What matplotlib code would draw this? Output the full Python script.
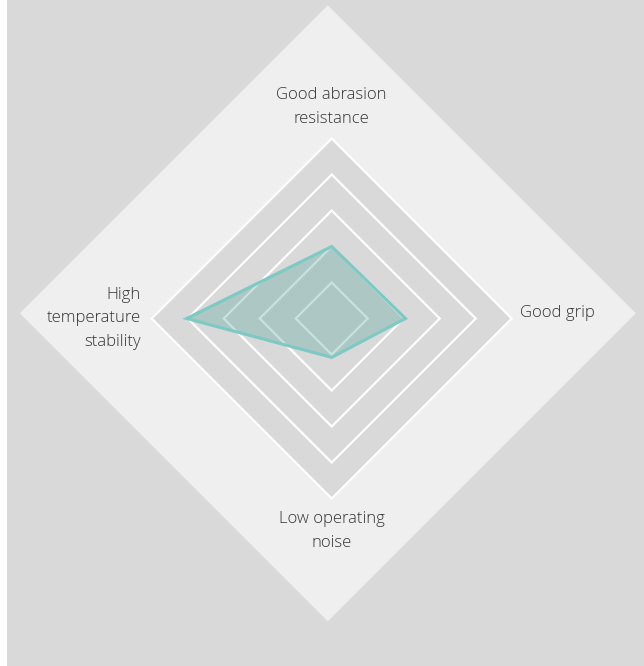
import matplotlib
matplotlib.use("Agg")
import matplotlib.pyplot as plt
import numpy as np
from matplotlib.patches import Polygon, Rectangle

# ---- data ----
categories = ["Good abrasion\nresistance", "Good grip", "Low operating\nnoise", "High\ntemperature\nstability"]
values = [2.0, 2.05, 1.08, 4.03]
ring_levels = [1, 2, 3, 4, 5]

# ---- style / layout ----
W, H, DPI = 644, 666, 100
UNIT = 36.0            # pixels per value unit
CX, CY = 331.7, 318.5  # chart centre in pixels (from top-left)
BG = "#d9d9d9"
LIGHT = "#efefef"
TEXT = "#333333"
EDGE = "#7dc9c3"
FILL = "#4a9e98"

plt.rcParams['font.family'] = ['Open Sans', 'DejaVu Sans']

fig = plt.figure(figsize=(W / DPI, H / DPI), dpi=DPI)
fig.patch.set_facecolor("white")
ax = fig.add_axes([0, 0, 1, 1])
ax.set_xlim(-CX / UNIT, (W - CX) / UNIT)
ax.set_ylim(-(H - CY) / UNIT, CY / UNIT)
ax.set_aspect("equal")
ax.axis("off")

def px(x, y):
    return ((x - CX) / UNIT, (CY - y) / UNIT)

# grey background panel
x0, y0 = px(7, 665.5)
x1, y1 = px(W, 0)
ax.add_patch(Rectangle((x0, y0), x1 - x0, y1 - y0, facecolor=BG, edgecolor="none", zorder=0))

# big light diamond
ocx, ocy = px(327.8, 313.3)
orad = 308 / UNIT
ax.add_patch(Polygon([(ocx, ocy + orad), (ocx + orad, ocy), (ocx, ocy - orad), (ocx - orad, ocy)],
                     closed=True, facecolor=LIGHT, edgecolor="none", zorder=1))

# angles: top, right, bottom, left
angles = np.deg2rad([90, 0, -90, 180])

# rings
rmax = max(ring_levels)
ax.add_patch(Polygon([(rmax * np.cos(a), rmax * np.sin(a)) for a in angles], closed=True,
                     facecolor=BG, edgecolor="none", zorder=2))
for r in ring_levels:
    pts = [(r * np.cos(a), r * np.sin(a)) for a in angles]
    ax.add_patch(Polygon(pts, closed=True, facecolor="none", edgecolor="white", linewidth=1.6, zorder=3))

# data polygon
dpts = [(v * np.cos(a), v * np.sin(a)) for v, a in zip(values, angles)]
ax.add_patch(Polygon(dpts, closed=True, facecolor=FILL, alpha=0.3, edgecolor="none", zorder=4))
ax.add_patch(Polygon(dpts, closed=True, facecolor="none", edgecolor=EDGE, linewidth=2.2,
                     joinstyle="miter", zorder=5))

# labels
fs = 12
fw = 300
ls = 1.66
ax.text(0, rmax + 0.32, categories[0], ha="center", va="bottom", fontsize=fs, color=TEXT,
        fontweight=fw, linespacing=ls, zorder=6)
ax.text(rmax + 0.23, 0.05, categories[1], ha="left", va="baseline", fontsize=fs, color=TEXT,
        fontweight=fw, zorder=6)
ax.text(0, -(rmax + 0.34), categories[2], ha="center", va="top", fontsize=fs, color=TEXT,
        fontweight=fw, linespacing=ls, zorder=6)
ax.text(-(rmax + 0.30), 0.0, categories[3], ha="right", va="center", fontsize=fs, color=TEXT,
        fontweight=fw, linespacing=ls, multialignment="right", zorder=6)

fig.savefig("out.png", dpi=DPI, facecolor=fig.get_facecolor())
